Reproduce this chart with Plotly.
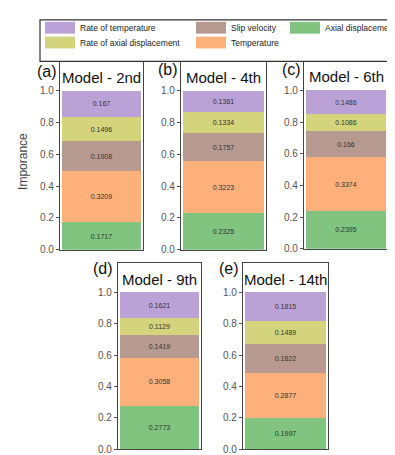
import plotly.graph_objects as go

W, H = 395, 455

models = ["Model - 2nd", "Model - 4th", "Model - 6th", "Model - 9th", "Model - 14th"]
panel_labels = ["(a)", "(b)", "(c)", "(d)", "(e)"]
features = ["Axial displacement", "Temperature", "Slip velocity",
            "Rate of axial displacement", "Rate of temperature"]
colors = ["#80C480", "#FDB07A", "#B79A8F", "#D4D47C", "#BBA2D6"]

axial_disp = [0.1717, 0.2325, 0.2395, 0.2773, 0.1997]
temperature = [0.3209, 0.3223, 0.3374, 0.3058, 0.2877]
slip_velocity = [0.1908, 0.1757, 0.166, 0.1419, 0.1822]
rate_axial = [0.1496, 0.1334, 0.1086, 0.1129, 0.1489]
rate_temp = [0.167, 0.1361, 0.1486, 0.1621, 0.1815]
series = [axial_disp, temperature, slip_velocity, rate_axial, rate_temp]

y_ticks = [0.0, 0.2, 0.4, 0.6, 0.8, 1.0]

# axes boxes in pixels: (x0, x1, ytop, ybottom)
boxes = [(52, 135, 53, 245), (173, 258, 53, 245), (296, 380, 53, 244),
         (110, 193, 258, 447), (235, 320, 258, 447)]
label_pos = [(39, 64), (160, 62), (283, 62), (95, 264), (221, 264)]

FONT = "Liberation Sans, Arial, sans-serif"
fig = go.Figure()
YMAX = 1.19

for i, m in enumerate(models):
    ax = "" if i == 0 else str(i + 1)
    for j, f in enumerate(features):
        v = series[j][i]
        fig.add_trace(go.Bar(
            x=[0], y=[v], name=f, marker=dict(color=colors[j], line=dict(width=0)),
            width=0.95, text=[str(v)], textposition="inside", insidetextanchor="middle",
            textfont=dict(size=7, color="#333", family=FONT), showlegend=False,
            xaxis="x" + ax, yaxis="y" + ax, hoverinfo="skip"))
    x0, x1, yt, yb = boxes[i]
    fig.update_layout(**{
        "xaxis" + ax: dict(domain=[x0 / W, x1 / W], range=[-0.5, 0.5], showticklabels=False,
                           ticks="", showgrid=False, zeroline=False, showline=True, mirror=True,
                           linecolor="#444", linewidth=1.2, anchor="y" + ax, fixedrange=True),
        "yaxis" + ax: dict(domain=[1 - yb / H, 1 - yt / H], range=[0, YMAX], tickvals=y_ticks,
                           ticktext=[f"{t:.1f}" for t in y_ticks], ticks="outside", ticklen=3,
                           tickcolor="#555", tickfont=dict(size=10, color="#555", family=FONT),
                           showgrid=False, zeroline=False, showline=True, mirror=True,
                           linecolor="#444", linewidth=1.2, anchor="x" + ax, fixedrange=True),
    })
    fig.add_annotation(x=0, y=1.085, xref="x" + ax, yref="y" + ax, text=m, showarrow=False,
                       font=dict(size=15, color="#111", family=FONT), xanchor="center", yanchor="middle")
    lx, ly = label_pos[i]
    fig.add_annotation(x=lx / W, y=1 - ly / H, xref="paper", yref="paper", text=panel_labels[i],
                       showarrow=False, font=dict(size=16, color="#111", family=FONT),
                       xanchor="center", yanchor="middle")

fig.add_annotation(x=15 / W, y=1 - 156 / H, xref="paper", yref="paper", text="Imporance",
                   textangle=-90, showarrow=False, font=dict(size=12, color="#444", family=FONT),
                   xanchor="center", yanchor="middle")

# legend (drawn manually)
fig.add_shape(type="rect", xref="paper", yref="paper", x0=32 / W, x1=402 / W,
              y0=1 - 54 / H, y1=1 - 12 / H, line=dict(color="#333", width=1.2), fillcolor="white")
leg_items = [("Rate of temperature", 4, 37, 20), ("Rate of axial displacement", 3, 37, 35),
             ("Slip velocity", 2, 188, 20), ("Temperature", 1, 188, 35),
             ("Axial displacement", 0, 282, 20)]
for name, ci, sx, cy in leg_items:
    fig.add_shape(type="rect", xref="paper", yref="paper", x0=sx / W, x1=(sx + 30) / W,
                  y0=1 - (cy + 6) / H, y1=1 - (cy - 6) / H, line=dict(width=0),
                  fillcolor=colors[ci])
    fig.add_annotation(x=(sx + 33) / W, y=1 - cy / H, xref="paper", yref="paper", text=name,
                       showarrow=False, xanchor="left", yanchor="middle",
                       font=dict(size=8.5, color="#222", family=FONT))

fig.update_layout(width=W, height=H, margin=dict(l=0, r=0, t=0, b=0), barmode="stack",
                  paper_bgcolor="white", plot_bgcolor="white", showlegend=False,
                  uniformtext=dict(minsize=6, mode="show"))
fig.write_html("out.html")
